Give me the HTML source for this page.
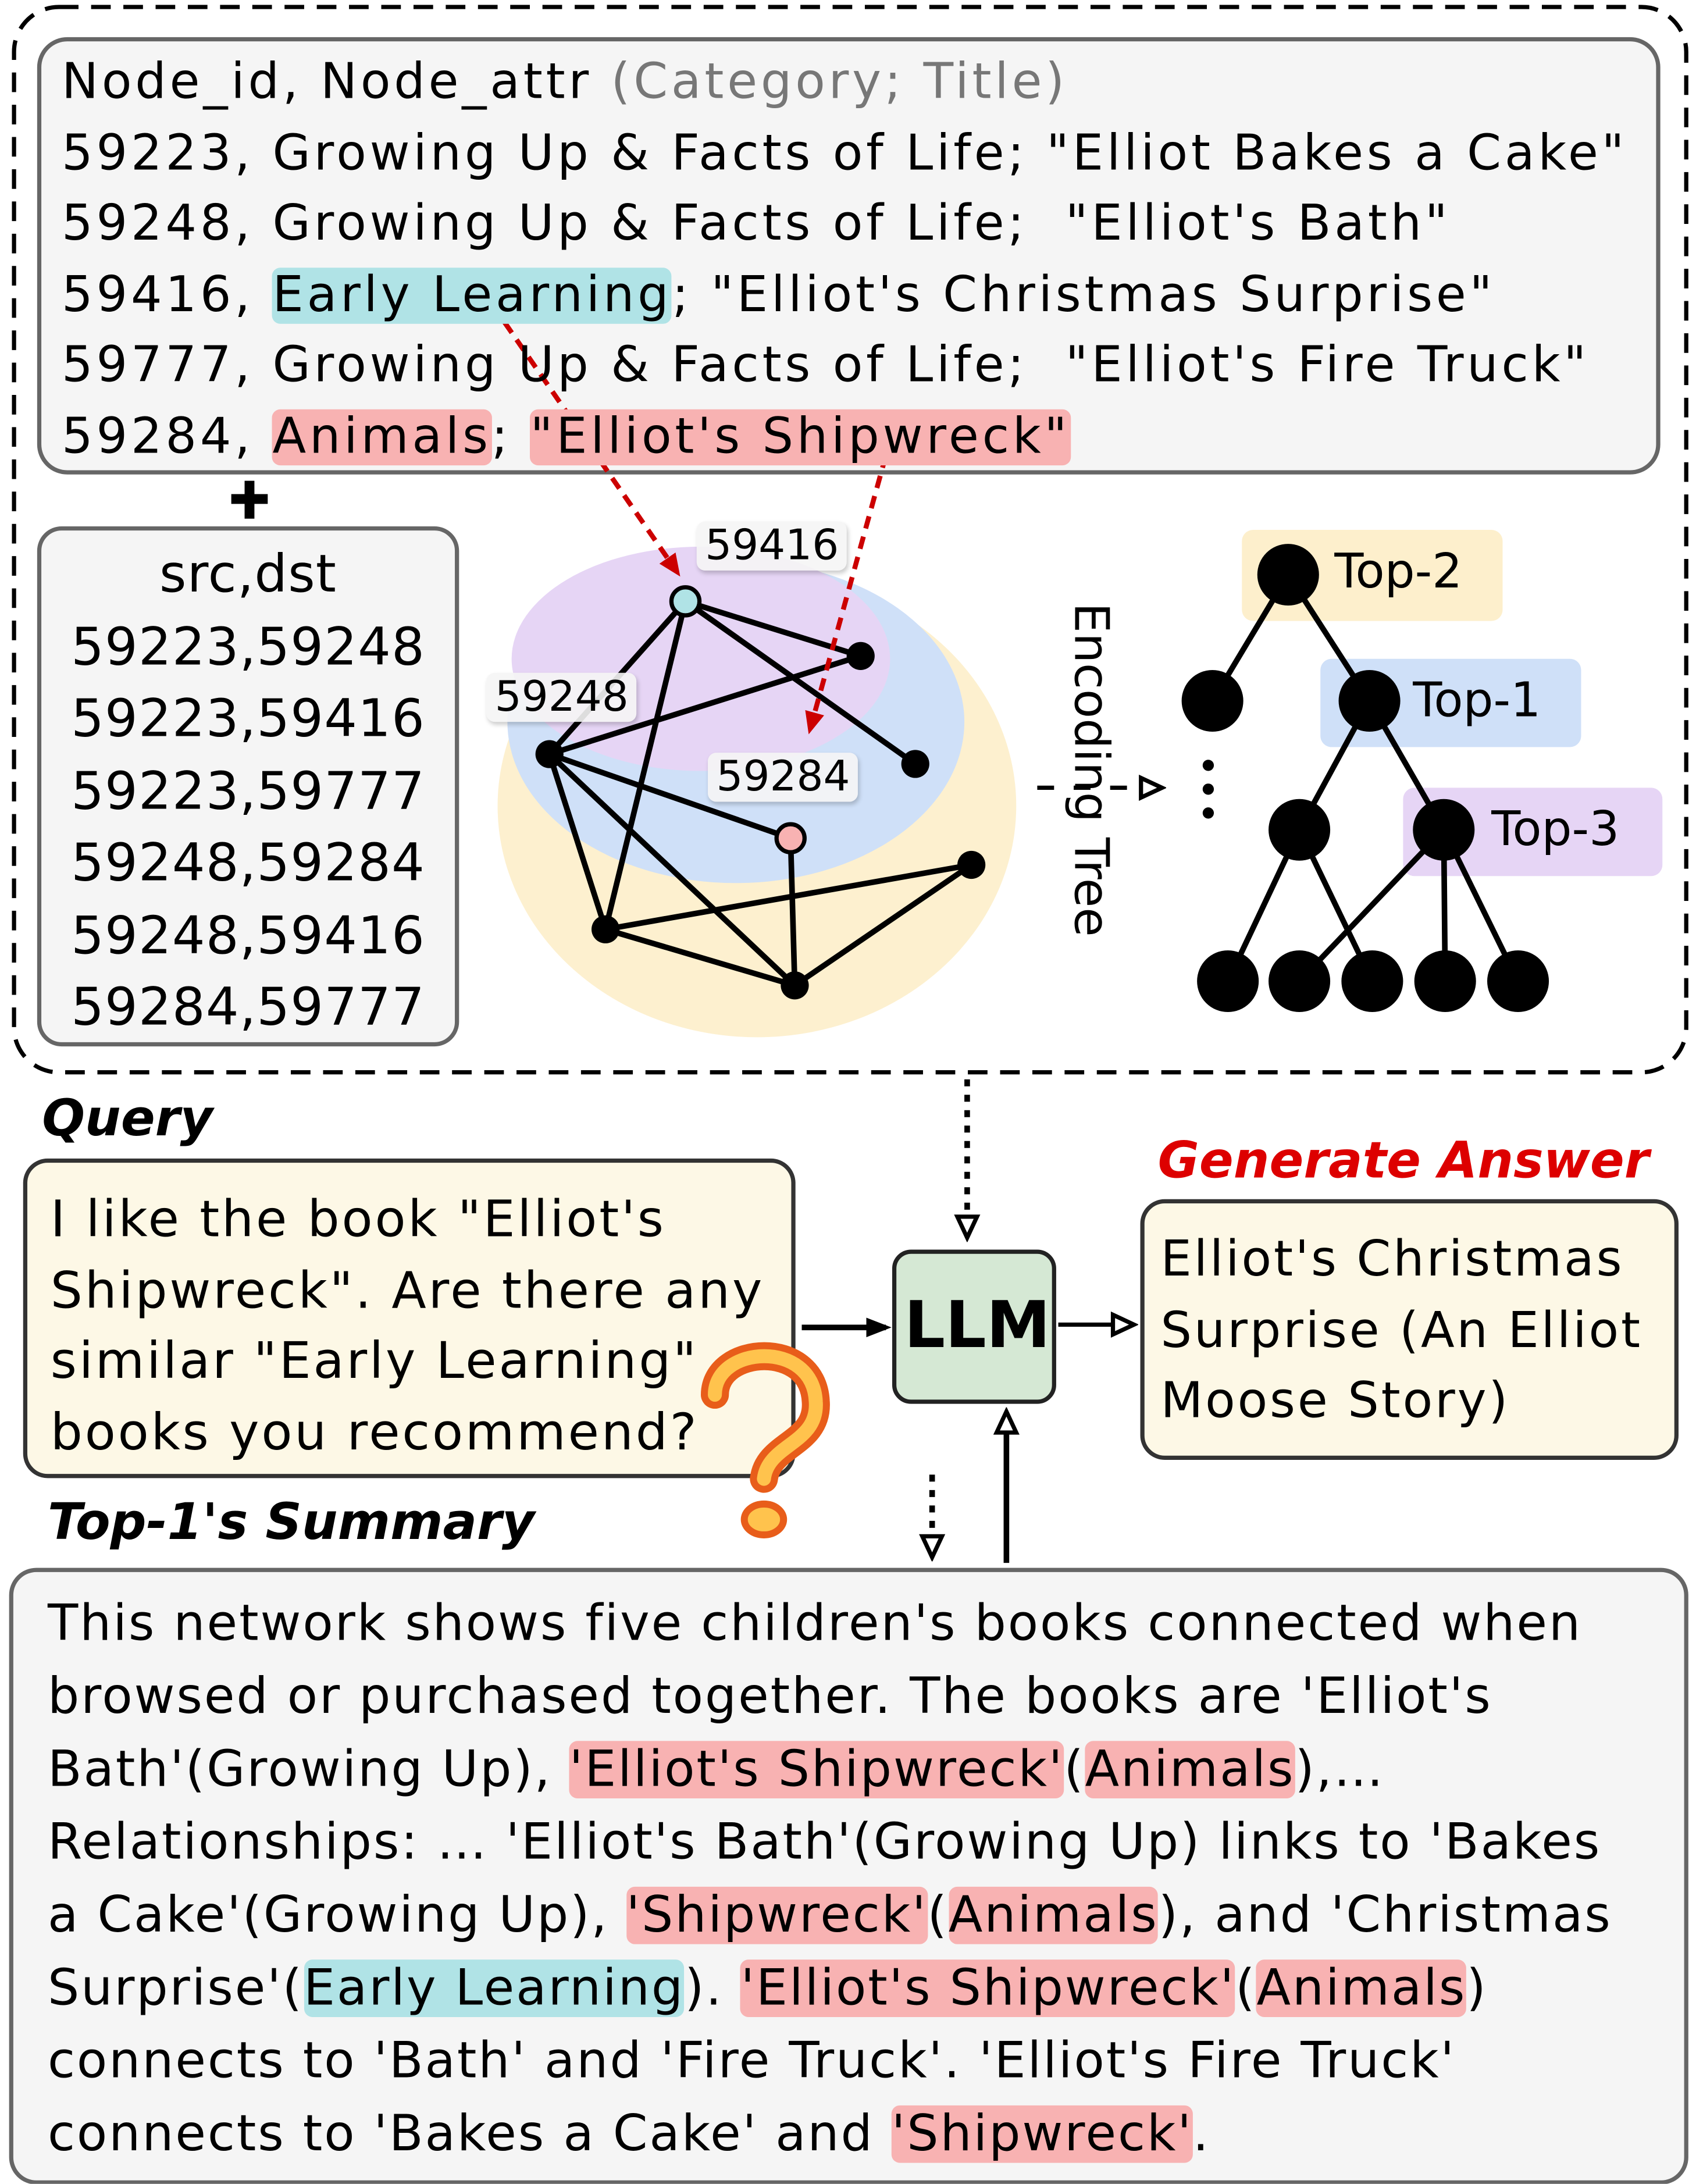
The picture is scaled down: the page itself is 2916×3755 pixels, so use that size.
<!DOCTYPE html>
<html><head><meta charset="utf-8"><style>
html,body{margin:0;padding:0;background:#fff;}
#wrap{position:relative;width:1210px;height:1558px;transform:scale(2.41);transform-origin:0 0;overflow:hidden;}
svg{position:absolute;left:0;top:0;}
.t{position:absolute;font-family:"DejaVu Sans","Liberation Sans",sans-serif;white-space:nowrap;color:#000;}
.c{background:#b0e3e6;border-radius:6px;}
.p{background:#f8b2b2;border-radius:6px;}
.lab{position:absolute;font-family:"DejaVu Sans",sans-serif;font-size:30px;background:rgba(245,245,245,0.9);border-radius:6px;padding:0 6px;box-shadow:1px 2px 3px rgba(0,0,0,0.2);}
.it{font-style:italic;font-weight:bold;}
</style></head><body><div id="wrap">
<svg width="1210" height="1558" viewBox="0 0 1210 1558">
<defs>
<marker id="ra" markerUnits="userSpaceOnUse" markerWidth="16" markerHeight="16" refX="12" refY="8" orient="auto"><path d="M0,1 L16,8 L0,15 z" fill="#c00"/></marker>
<marker id="ka" markerUnits="userSpaceOnUse" markerWidth="18" markerHeight="18" refX="14" refY="9" orient="auto"><path d="M0,2 L18,9 L0,16 z" fill="#000"/></marker>
<marker id="ho" markerUnits="userSpaceOnUse" markerWidth="20" markerHeight="20" refX="16" refY="10" orient="auto"><path d="M2,3 L17,10 L2,17 z" fill="#fff" stroke="#000" stroke-width="3"/></marker>
</defs>
<rect x="10" y="5" width="1193" height="760" rx="32" fill="none" stroke="#000" stroke-width="3" stroke-dasharray="14,9"/>
<rect x="28" y="28" width="1155" height="309" rx="20" fill="#f5f5f5" stroke="#666" stroke-width="3"/>
<rect x="28" y="377" width="298" height="368" rx="16" fill="#f5f5f5" stroke="#666" stroke-width="3"/>
<path d="M178 343 V370 M165 356 H191" stroke="#000" stroke-width="7"/>
<ellipse cx="540" cy="575" rx="185" ry="165" fill="#fdf0cf"/>
<ellipse cx="525" cy="515" rx="163" ry="115" fill="#cfe0f8"/>
<ellipse cx="500" cy="470" rx="135" ry="80" fill="#e6d5f5"/>
<g stroke="#000" stroke-width="4" fill="none">
<path d="M489 429 L614 468 M489 429 L392 538 M489 429 L432 663 M489 429 L653 545 M392 538 L614 468 M392 538 L564 598 M392 538 L432 663 M392 538 L567 703 M564 598 L567 703 M432 663 L693 617 M432 663 L567 703 M567 703 L693 617"/>
</g>
<g stroke="#000" stroke-width="3">
<circle cx="489" cy="429" r="10" fill="#b0e3e6"/>
<circle cx="564" cy="598" r="10" fill="#f8b2b2"/>
</g>
<g fill="#000"><circle cx="614" cy="468" r="10"/><circle cx="392" cy="538" r="10"/><circle cx="653" cy="545" r="10"/><circle cx="693" cy="617" r="10"/><circle cx="432" cy="663" r="10"/><circle cx="567" cy="703" r="10"/></g>
<path d="M360 230 L483 408" stroke="#c00" stroke-width="3.5" stroke-dasharray="9,6" marker-end="url(#ra)"/>
<path d="M632 325 L578 520" stroke="#c00" stroke-width="3.5" stroke-dasharray="9,6" marker-end="url(#ra)"/>
<path d="M740 562 H828" stroke="#000" stroke-width="3" stroke-dasharray="12,14" marker-end="url(#ho)"/>
<rect x="886" y="378" width="186" height="65" rx="8" fill="#fdefcc"/>
<rect x="942" y="470" width="186" height="63" rx="8" fill="#cfe0f8"/>
<rect x="1001" y="562" width="185" height="63" rx="8" fill="#e6d5f5"/>
<g stroke="#000" stroke-width="4"><path d="M919 410 L865 500 M919 410 L977 500 M977 500 L927 592 M977 500 L1030 592 M927 592 L876 700 M927 592 L979 700 M1030 592 L927 700 M1030 592 L1031 700 M1030 592 L1083 700"/></g>
<g fill="#000"><circle cx="919" cy="410" r="22"/><circle cx="865" cy="500" r="22"/><circle cx="977" cy="500" r="22"/><circle cx="927" cy="592" r="22"/><circle cx="1030" cy="592" r="22"/><circle cx="876" cy="700" r="22"/><circle cx="927" cy="700" r="22"/><circle cx="979" cy="700" r="22"/><circle cx="1031" cy="700" r="22"/><circle cx="1083" cy="700" r="22"/>
<circle cx="862" cy="546" r="4"/><circle cx="862" cy="563" r="4"/><circle cx="862" cy="580" r="4"/></g>
<rect x="18" y="828" width="548" height="225" rx="16" fill="#fdf8e6" stroke="#333" stroke-width="3"/>
<rect x="815" y="857" width="381" height="183" rx="16" fill="#fdf8e6" stroke="#333" stroke-width="3"/>
<rect x="638" y="893" width="114" height="107" rx="12" fill="#d5e8d4" stroke="#222" stroke-width="3"/>
<rect x="8" y="1120" width="1195" height="437" rx="18" fill="#f5f5f5" stroke="#666" stroke-width="3"/>
<path d="M572 947 H632" stroke="#000" stroke-width="4" marker-end="url(#ka)"/>
<path d="M755 945 H808" stroke="#000" stroke-width="3" marker-end="url(#ho)"/>
<path d="M690 770 V882" stroke="#000" stroke-width="4" stroke-dasharray="5,6" marker-end="url(#ho)"/>
<path d="M665 1052 V1110" stroke="#000" stroke-width="4" stroke-dasharray="5,6" marker-end="url(#ho)"/>
<path d="M718 1115 V1008" stroke="#000" stroke-width="4" marker-end="url(#ho)"/>
<g>
<path d="M510 995 C510 960 580 955 582 1000 C584 1030 548 1030 545 1055" stroke="#e85d1a" stroke-width="20" fill="none" stroke-linecap="round"/>
<path d="M510 995 C510 960 580 955 582 1000 C584 1030 548 1030 545 1055" stroke="#ffc34d" stroke-width="10" fill="none" stroke-linecap="round"/>
<ellipse cx="545" cy="1084" rx="14" ry="11" fill="#ffc34d" stroke="#e85d1a" stroke-width="5"/>
</g>
</svg>
<div class="t" style="left:44px;top:34px;font-size:35px;line-height:50.5px;letter-spacing:2.4px;">
Node_id, Node_attr <span style="color:#777">(Category; Title)</span><br>
59223, Growing Up &amp; Facts of Life; "Elliot Bakes a Cake"<br>
59248, Growing Up &amp; Facts of Life;&nbsp; "Elliot's Bath"<br>
59416, <span class="c">Early Learning</span>; "Elliot's Christmas Surprise"<br>
59777, Growing Up &amp; Facts of Life;&nbsp; "Elliot's Fire Truck"<br>
59284, <span class="p">Animals</span>; <span class="p">"Elliot's Shipwreck"</span></div>
<div class="t" style="left:28px;width:298px;text-align:center;top:384px;font-size:37px;line-height:51.5px;letter-spacing:0.5px;">src,dst<br>59223,59248<br>59223,59416<br>59223,59777<br>59248,59284<br>59248,59416<br>59284,59777</div>
<div class="lab" style="left:497px;top:372px;">59416</div>
<div class="lab" style="left:347px;top:480px;">59248</div>
<div class="lab" style="left:505px;top:537px;">59284</div>
<div class="t" style="left:780px;top:430px;font-size:34px;transform:rotate(90deg);transform-origin:0 0;margin-left:18px;">Encoding Tree</div>
<div class="t" style="left:952px;top:388px;font-size:34px;">Top-2</div>
<div class="t" style="left:1008px;top:480px;font-size:34px;">Top-1</div>
<div class="t" style="left:1064px;top:572px;font-size:34px;">Top-3</div>
<div class="t it" style="left:30px;top:778px;font-size:36px;">Query</div>
<div class="t" style="left:36px;top:846px;font-size:36px;line-height:50.5px;letter-spacing:1.6px;">I like the book "Elliot's<br>Shipwreck". Are there any<br>similar "Early Learning"<br>books you recommend?</div>
<div class="t" style="left:645px;top:918px;font-size:46px;font-weight:bold;">LLM</div>
<div class="t it" style="left:826px;top:808px;font-size:36px;color:#d00;">Generate Answer</div>
<div class="t" style="left:828px;top:874px;font-size:35px;line-height:50.5px;letter-spacing:1.6px;">Elliot's Christmas<br>Surprise (An Elliot<br>Moose Story)</div>
<div class="t it" style="left:34px;top:1066px;font-size:36px;">Top-1's Summary</div>
<div class="t" style="left:34px;top:1133px;font-size:35.5px;line-height:52px;letter-spacing:1.2px;">This network shows five children's books connected when<br>browsed or purchased together. The books are 'Elliot's<br>Bath'(Growing Up), <span class="p">'Elliot's Shipwreck'</span>(<span class="p">Animals</span>),…<br>Relationships: … 'Elliot's Bath'(Growing Up) links to 'Bakes<br>a Cake'(Growing Up), <span class="p">'Shipwreck'</span>(<span class="p">Animals</span>), and 'Christmas<br>Surprise'(<span class="c">Early Learning</span>). <span class="p">'Elliot's Shipwreck'</span>(<span class="p">Animals</span>)<br>connects to 'Bath' and 'Fire Truck'. 'Elliot's Fire Truck'<br>connects to 'Bakes a Cake' and <span class="p">'Shipwreck'</span>.</div>
</div></body></html>
